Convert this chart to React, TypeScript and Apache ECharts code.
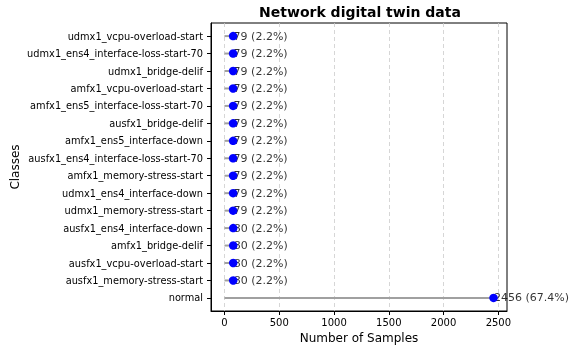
import React, { useEffect, useRef } from "react";
import * as echarts from "echarts";

const categories = [
  "normal",
  "ausfx1_memory-stress-start",
  "ausfx1_vcpu-overload-start",
  "amfx1_bridge-delif",
  "ausfx1_ens4_interface-down",
  "udmx1_memory-stress-start",
  "udmx1_ens4_interface-down",
  "amfx1_memory-stress-start",
  "ausfx1_ens4_interface-loss-start-70",
  "amfx1_ens5_interface-down",
  "ausfx1_bridge-delif",
  "amfx1_ens5_interface-loss-start-70",
  "amfx1_vcpu-overload-start",
  "udmx1_bridge-delif",
  "udmx1_ens4_interface-loss-start-70",
  "udmx1_vcpu-overload-start",
];
const counts = [2456, 80, 80, 80, 80, 79, 79, 79, 79, 79, 79, 79, 79, 79, 79, 79];
const xTicks = [0, 500, 1000, 1500, 2000, 2500];

const FONT = "DejaVu Sans";

export default function App() {
  const ref = useRef<HTMLDivElement>(null);
  useEffect(() => {
    if (!ref.current) return;
    const chart = echarts.init(ref.current, null, { renderer: "svg" });
    const total = counts.reduce((a, b) => a + b, 0);
    const maxV = Math.max(...counts);
    const pad = maxV * 0.05;
    const yIdx = categories.map((_, i) => i);
    const pts = counts.map((v, i) => [v, i]);
    chart.setOption({
      animation: false,
      title: {
        text: "Network digital twin data",
        left: 355,
        top: 0,
        textAlign: "center",
        textStyle: { fontFamily: FONT, fontSize: 14, fontWeight: "bold", color: "#000" },
      },
      grid: {
        left: 211,
        right: 68,
        top: 23,
        bottom: 41,
        containLabel: false,
        outerBoundsMode: "none",
        show: true,
        borderColor: "#000",
        borderWidth: 1,
        backgroundColor: "transparent",
      },
      xAxis: {
        type: "value",
        min: -pad,
        max: maxV + pad,
        name: "Number of Samples",
        nameLocation: "middle",
        nameGap: 21,
        nameMoveOverlap: false,
        nameTextStyle: { fontFamily: FONT, fontSize: 12, color: "#000" },
        axisLine: { show: true, onZero: false, lineStyle: { color: "#000", width: 1 } },
        axisTick: { show: true, length: 4, customValues: xTicks, lineStyle: { color: "#000" } },
        axisLabel: {
          customValues: xTicks,
          formatter: (v: number) => String(Math.round(v)),
          fontFamily: FONT,
          fontSize: 10,
          color: "#000",
          margin: 6,
        },
        splitLine: { show: true, lineStyle: { type: [4, 3], color: "#cccccc", width: 0.8 } },
      },
      yAxis: {
        type: "value",
        min: -0.75,
        max: categories.length - 1 + 0.75,
        name: "Classes",
        nameLocation: "middle",
        nameGap: 190,
        nameMoveOverlap: false,
        nameTextStyle: { fontFamily: FONT, fontSize: 12, color: "#000" },
        axisLine: { show: true, onZero: false, lineStyle: { color: "#000", width: 1 } },
        axisTick: { show: true, length: 4, customValues: yIdx, lineStyle: { color: "#000" } },
        axisLabel: {
          customValues: yIdx,
          formatter: (v: number) => categories[Math.round(v)] ?? "",
          fontFamily: FONT,
          fontSize: 9.8,
          color: "#000",
          margin: 8,
        },
        splitLine: { show: false },
      },
      series: [
        {
          type: "custom",
          z: 1,
          data: pts,
          encode: { x: 0, y: 1 },
          renderItem: (params: any, api: any) => {
            const v = api.value(0);
            const y = api.value(1);
            const p0 = api.coord([0, y]);
            const p1 = api.coord([v, y]);
            return {
              type: "line",
              shape: { x1: p0[0], y1: p0[1], x2: p1[0], y2: p1[1] },
              style: { stroke: "#a0a0a0", lineWidth: 2 },
            };
          },
        },
        {
          type: "scatter",
          z: 2,
          data: pts,
          symbolSize: 1,
          itemStyle: { color: "transparent" },
          label: {
            show: true,
            position: "right",
            distance: 0,
            fontFamily: FONT,
            fontSize: 11,
            color: "#000",
            formatter: (p: any) => {
              const v = p.value[0];
              return `${v} (${((v / total) * 100).toFixed(1)}%)`;
            },
          },
        },
        {
          type: "scatter",
          z: 5,
          data: pts,
          symbol: "circle",
          symbolSize: 8.5,
          itemStyle: { color: "#0000ff", opacity: 1 },
        },
      ],
    });
    return () => chart.dispose();
  }, []);
  return (
    <div
      ref={ref}
      style={{ position: "fixed", left: 0, top: 0, width: 575, height: 352 }}
    />
  );
}
